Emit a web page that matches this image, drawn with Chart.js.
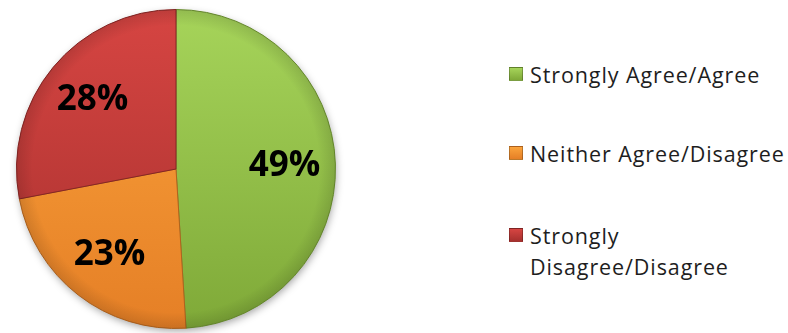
<!DOCTYPE html>
<html>
<head>
<meta charset="utf-8">
<script src="https://cdn.jsdelivr.net/npm/chart.js@4.4.1/dist/chart.umd.min.js"></script>
<style>
    html, body { margin: 0; padding: 0; background: #fff; }
    #wrap { position: relative; width: 788px; height: 333px; overflow: hidden; }
    #pie-box { position: absolute; left: 0; top: 0; width: 352px; height: 333px; }
    #legend { position: absolute; left: 509px; top: 0; margin: 0; padding: 0; list-style: none;
              font-family: "Open Sans", sans-serif; font-size: 21.5px; letter-spacing: 0.9px; color: #1e1e1e; }
    #legend li { position: absolute; left: 0; white-space: nowrap; line-height: 31px; }
    #legend .box { position: absolute; left: 0; top: 8px; width: 12px; height: 12px; border: 1px solid rgba(0,0,0,.25); }
    #legend .txt { display: block; padding-left: 21px; }
</style>
</head>
<body>
<div id="wrap">
    <div id="pie-box"><canvas id="pie"></canvas></div>
    <ul id="legend"></ul>
</div>
<script>
    // survey answers, share of respondents in %
    const labels = ['Strongly Agree/Agree', 'Neither Agree/Disagree', 'Strongly Disagree/Disagree'];
    const legendLines = [['Strongly Agree/Agree'], ['Neither Agree/Disagree'], ['Strongly', 'Disagree/Disagree']];
    const values = [49, 23, 28];

    // light (top) / dark (bottom) shade for each slice
    const lightColors = ['#a6d45a', '#fba43c', '#d64542'];
    const darkColors = ['#7fa938', '#e57f26', '#a7302e'];
    const edgeColors = ['#6a8e2e', '#b0631e', '#862624'];

    function sliceFill(ctx) {
        const chart = ctx.chart;
        const area = chart.chartArea;
        const i = ctx.dataIndex;
        if (!area) return lightColors[i];
        const g = chart.ctx.createLinearGradient(0, area.top, 0, area.bottom);
        g.addColorStop(0, lightColors[i]);
        g.addColorStop(1, darkColors[i]);
        return g;
    }

    // soft drop shadow under the whole pie
    const pieShadow = {
        id: 'pieShadow',
        beforeDatasetsDraw(chart) {
            const arc = chart.getDatasetMeta(0).data[0];
            if (!arc) return;
            const { x, y, outerRadius } = arc.getProps(['x', 'y', 'outerRadius'], true);
            const c = chart.ctx;
            c.save();
            c.shadowColor = 'rgba(0,0,0,0.4)';
            c.shadowBlur = 8;
            c.shadowOffsetX = 1;
            c.shadowOffsetY = 3;
            c.beginPath();
            c.arc(x, y, outerRadius - 1, 0, Math.PI * 2);
            c.fillStyle = '#999';
            c.fill();
            c.restore();
        }
    };

    // darker rim along the outer edge, gives the slices a bevelled look
    const pieRim = {
        id: 'pieRim',
        afterDatasetsDraw(chart) {
            const arc = chart.getDatasetMeta(0).data[0];
            if (!arc) return;
            const { x, y, outerRadius } = arc.getProps(['x', 'y', 'outerRadius'], true);
            const c = chart.ctx;
            const g = c.createRadialGradient(x, y, outerRadius * 0.9, x, y, outerRadius);
            g.addColorStop(0, 'rgba(0,0,0,0)');
            g.addColorStop(1, 'rgba(0,0,0,0.12)');
            c.save();
            c.beginPath();
            c.arc(x, y, outerRadius, 0, Math.PI * 2);
            c.fillStyle = g;
            c.fill();
            c.restore();
        }
    };

    // percentage inside each slice
    const sliceLabels = {
        id: 'sliceLabels',
        afterDatasetsDraw(chart) {
            const c = chart.ctx;
            c.save();
            c.font = 'bold 35px "Open Sans", sans-serif';
            c.fillStyle = '#000';
            c.textAlign = 'center';
            c.textBaseline = 'middle';
            chart.getDatasetMeta(0).data.forEach((arc, i) => {
                const p = arc.getProps(['x', 'y', 'startAngle', 'endAngle', 'outerRadius'], true);
                const mid = (p.startAngle + p.endAngle) / 2;
                const r = p.outerRadius * 0.68;
                c.fillText(values[i] + '%', p.x + Math.cos(mid) * r, p.y + Math.sin(mid) * r);
            });
            c.restore();
        }
    };

    new Chart(document.getElementById('pie'), {
        type: 'pie',
        data: {
            labels,
            datasets: [{
                data: values,
                backgroundColor: sliceFill,
                borderColor: edgeColors,
                borderWidth: 1
            }]
        },
        options: {
            responsive: true,
            maintainAspectRatio: false,
            animation: false,
            layout: { padding: { top: 9, bottom: 4, left: 16, right: 16 } },
            plugins: {
                legend: { display: false },
                tooltip: { enabled: false }
            }
        },
        plugins: [pieShadow, pieRim, sliceLabels]
    });

    // legend on the right, one entry per slice
    const rowTops = [59, 138, 220];
    const ul = document.getElementById('legend');
    labels.forEach((name, i) => {
        const li = document.createElement('li');
        li.style.top = rowTops[i] + 'px';
        const box = document.createElement('span');
        box.className = 'box';
        box.style.background = 'linear-gradient(' + lightColors[i] + ', ' + darkColors[i] + ')';
        const txt = document.createElement('span');
        txt.className = 'txt';
        txt.innerHTML = legendLines[i].join('<br>');
        li.appendChild(box);
        li.appendChild(txt);
        ul.appendChild(li);
    });
</script>
</body>
</html>
